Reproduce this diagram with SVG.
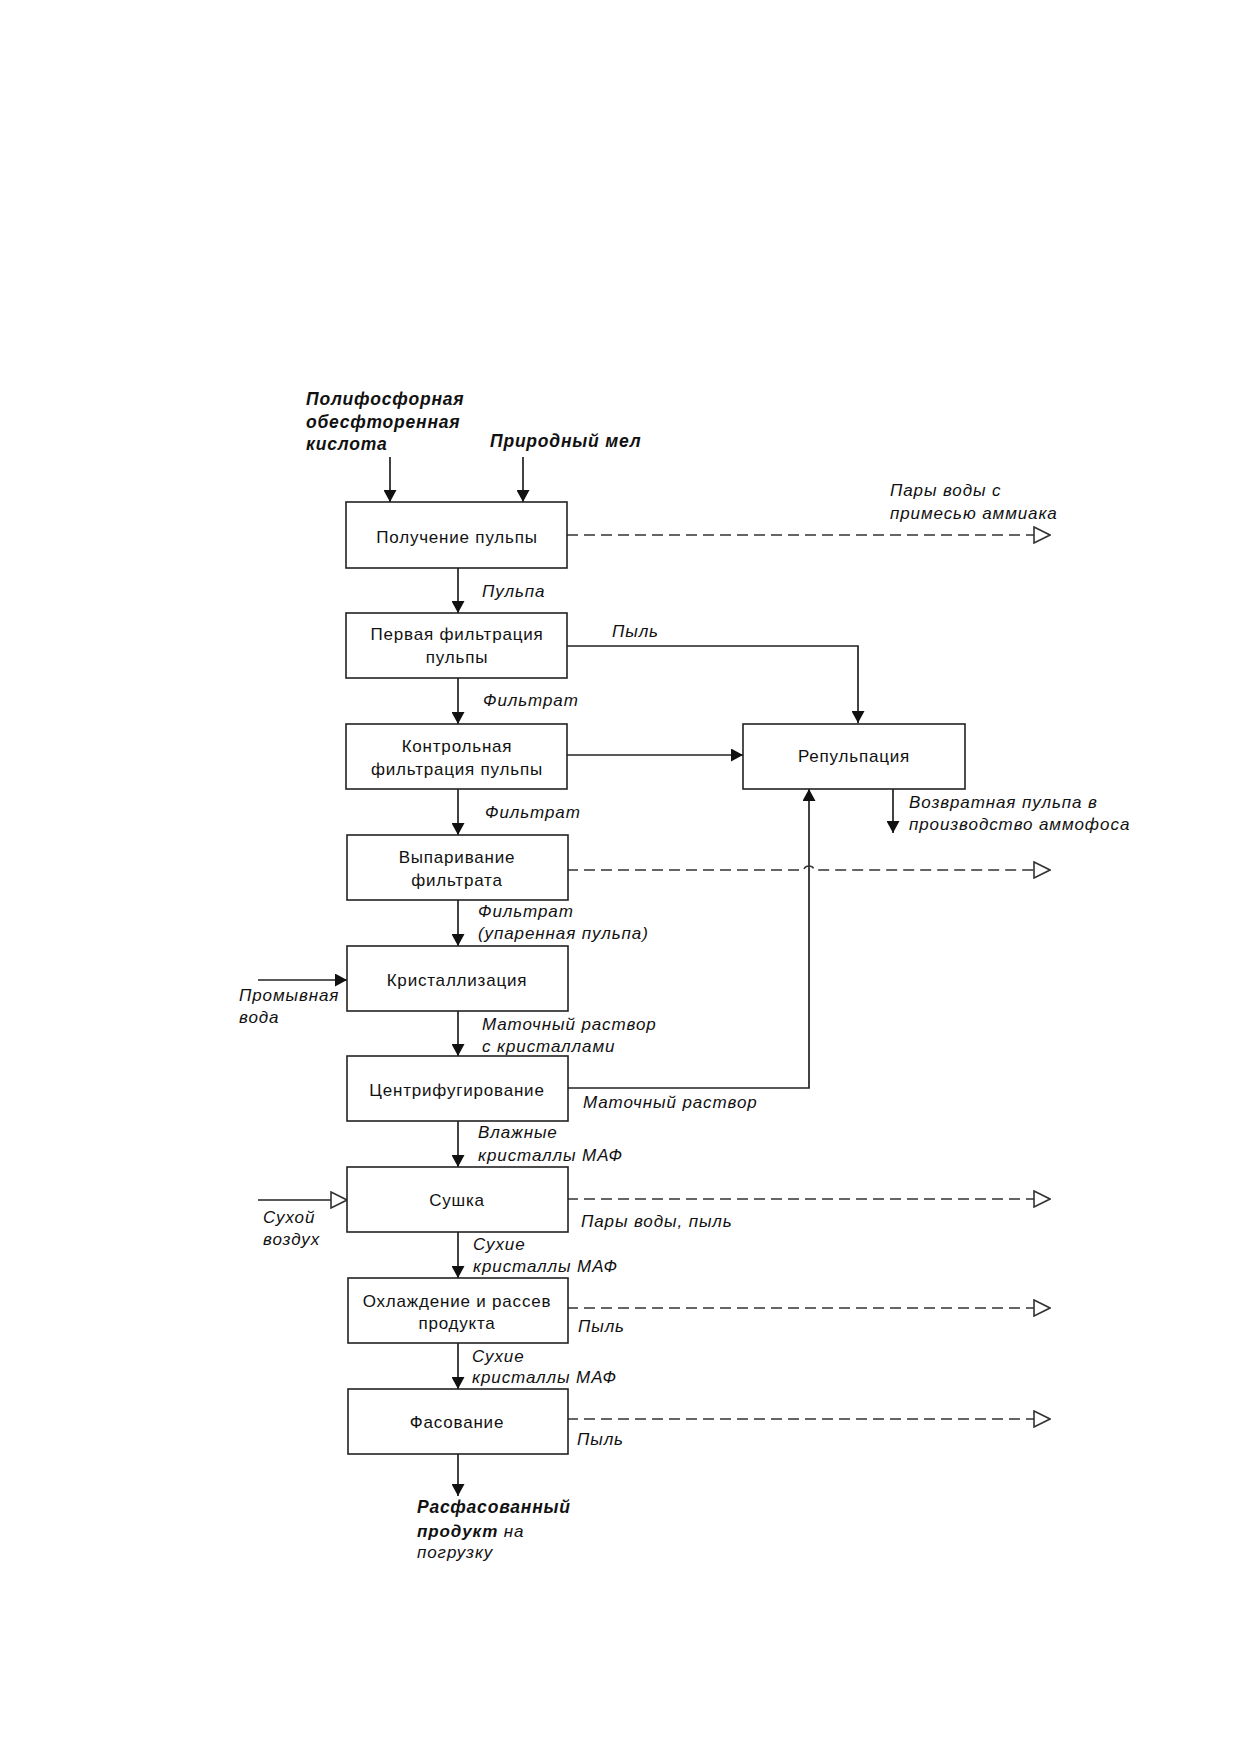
<svg xmlns="http://www.w3.org/2000/svg" width="1241" height="1754" viewBox="0 0 1241 1754">
<style>
.box{fill:#fff;stroke:#222;stroke-width:1.6}
.bt{font-family:"Liberation Sans",Arial,sans-serif;font-size:17px;letter-spacing:0.8px;fill:#111;text-anchor:middle}
.lb{font-family:"Liberation Sans",Arial,sans-serif;font-size:17px;letter-spacing:0.9px;font-style:italic;fill:#111}
.bi{font-family:"Liberation Sans",Arial,sans-serif;font-size:17.5px;letter-spacing:0.8px;font-style:italic;font-weight:bold;fill:#111}
.ln{fill:none;stroke:#222;stroke-width:1.7}
.ds{fill:none;stroke:#333;stroke-width:1.6;stroke-dasharray:11 6}
</style>
<defs>
<marker id="fa" viewBox="0 0 12 13" refX="12" refY="6.5" markerWidth="12" markerHeight="13" markerUnits="userSpaceOnUse" orient="auto"><path d="M0,0 L12,6.5 L0,13 Z" fill="#111"/></marker>
<marker id="oa" viewBox="0 0 18 18" refX="17" refY="9" markerWidth="18" markerHeight="18" markerUnits="userSpaceOnUse" orient="auto"><path d="M1,1 L17,9 L1,17 Z" fill="#fff" stroke="#333" stroke-width="1.6"/></marker>
</defs>
<rect width="1241" height="1754" fill="#fff"/>

<g id="connectors">
<line class="ln" x1="390" y1="457" x2="390" y2="502" marker-end="url(#fa)"/>
<line class="ln" x1="523" y1="457" x2="523" y2="502" marker-end="url(#fa)"/>
<line class="ln" x1="458" y1="568" x2="458" y2="613" marker-end="url(#fa)"/>
<line class="ln" x1="458" y1="678" x2="458" y2="724" marker-end="url(#fa)"/>
<line class="ln" x1="458" y1="789" x2="458" y2="835" marker-end="url(#fa)"/>
<line class="ln" x1="458" y1="900" x2="458" y2="946" marker-end="url(#fa)"/>
<line class="ln" x1="458" y1="1011" x2="458" y2="1056" marker-end="url(#fa)"/>
<line class="ln" x1="458" y1="1121" x2="458" y2="1167" marker-end="url(#fa)"/>
<line class="ln" x1="458" y1="1232" x2="458" y2="1278" marker-end="url(#fa)"/>
<line class="ln" x1="458" y1="1343" x2="458" y2="1389" marker-end="url(#fa)"/>
<line class="ln" x1="458" y1="1454" x2="458" y2="1496" marker-end="url(#fa)"/>
<path class="ln" d="M567,646 H858 V723" marker-end="url(#fa)"/>
<line class="ln" x1="567" y1="755" x2="743" y2="755" marker-end="url(#fa)"/>
<path class="ln" d="M567,1088 H809 V789" marker-end="url(#fa)"/>
<line class="ln" x1="893" y1="789" x2="893" y2="833" marker-end="url(#fa)"/>
<line class="ln" x1="258" y1="980" x2="347" y2="980" marker-end="url(#fa)"/>
<line class="ln" x1="258" y1="1200" x2="347" y2="1200" marker-end="url(#oa)"/>
<path class="ds" d="M567,535 H1050" marker-end="url(#oa)"/>
<path class="ds" d="M567,870 H804 a5,4 0 0 1 10,0 H1050" marker-end="url(#oa)"/>
<path class="ds" d="M567,1199 H1050" marker-end="url(#oa)"/>
<path class="ds" d="M567,1308 H1050" marker-end="url(#oa)"/>
<path class="ds" d="M567,1419 H1050" marker-end="url(#oa)"/>
</g>

<g id="n1"><rect class="box" x="346" y="502" width="221" height="66"/><text class="bt" x="457" y="543">Получение пульпы</text></g>
<g id="n2"><rect class="box" x="346" y="613" width="221" height="65"/><text class="bt" x="457" y="640">Первая фильтрация</text><text class="bt" x="457" y="663">пульпы</text></g>
<g id="n3"><rect class="box" x="346" y="724" width="221" height="65"/><text class="bt" x="457" y="752">Контрольная</text><text class="bt" x="457" y="775">фильтрация пульпы</text></g>
<g id="n4"><rect class="box" x="347" y="835" width="221" height="65"/><text class="bt" x="457" y="863">Выпаривание</text><text class="bt" x="457" y="886">фильтрата</text></g>
<g id="n5"><rect class="box" x="347" y="946" width="221" height="65"/><text class="bt" x="457" y="986">Кристаллизация</text></g>
<g id="n6"><rect class="box" x="347" y="1056" width="221" height="65"/><text class="bt" x="457" y="1096">Центрифугирование</text></g>
<g id="n7"><rect class="box" x="347" y="1167" width="221" height="65"/><text class="bt" x="457" y="1206">Сушка</text></g>
<g id="n8"><rect class="box" x="348" y="1278" width="220" height="65"/><text class="bt" x="457" y="1307">Охлаждение и рассев</text><text class="bt" x="457" y="1329">продукта</text></g>
<g id="n9"><rect class="box" x="348" y="1389" width="220" height="65"/><text class="bt" x="457" y="1428">Фасование</text></g>
<g id="n10"><rect class="box" x="743" y="724" width="222" height="65"/><text class="bt" x="854" y="762">Репульпация</text></g>

<g id="labels">
<text class="bi" x="306" y="405">Полифосфорная</text>
<text class="bi" x="306" y="428">обесфторенная</text>
<text class="bi" x="306" y="450">кислота</text>
<text class="bi" x="490" y="447">Природный мел</text>
<text class="lb" x="890" y="496">Пары воды с</text>
<text class="lb" x="890" y="519">примесью аммиака</text>
<text class="lb" x="482" y="597">Пульпа</text>
<text class="lb" x="612" y="637">Пыль</text>
<text class="lb" x="483" y="706">Фильтрат</text>
<text class="lb" x="485" y="818">Фильтрат</text>
<text class="lb" x="909" y="808">Возвратная пульпа в</text>
<text class="lb" x="909" y="830">производство аммофоса</text>
<text class="lb" x="478" y="917">Фильтрат</text>
<text class="lb" x="478" y="939">(упаренная пульпа)</text>
<text class="lb" x="239" y="1001">Промывная</text>
<text class="lb" x="239" y="1023">вода</text>
<text class="lb" x="482" y="1030">Маточный раствор</text>
<text class="lb" x="482" y="1052">с кристаллами</text>
<text class="lb" x="583" y="1108">Маточный раствор</text>
<text class="lb" x="478" y="1138">Влажные</text>
<text class="lb" x="478" y="1161">кристаллы МАФ</text>
<text class="lb" x="263" y="1223">Сухой</text>
<text class="lb" x="263" y="1245">воздух</text>
<text class="lb" x="581" y="1227">Пары воды, пыль</text>
<text class="lb" x="473" y="1250">Сухие</text>
<text class="lb" x="473" y="1272">кристаллы МАФ</text>
<text class="lb" x="578" y="1332">Пыль</text>
<text class="lb" x="472" y="1362">Сухие</text>
<text class="lb" x="472" y="1383">кристаллы МАФ</text>
<text class="lb" x="577" y="1445">Пыль</text>
<text class="bi" x="417" y="1513">Расфасованный</text>
<text class="lb" x="417" y="1537"><tspan font-weight="bold">продукт</tspan> на</text>
<text class="lb" x="417" y="1558">погрузку</text>
</g>
</svg>
